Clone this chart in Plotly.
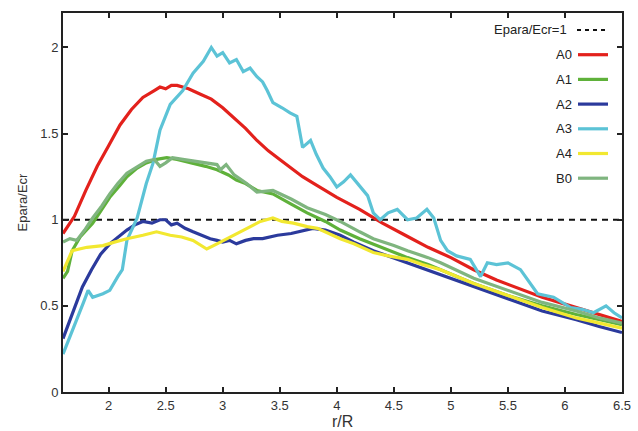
import plotly.graph_objects as go

# ---------------- data ----------------
a0_x = [1.6, 1.7, 1.8, 1.9, 2.0, 2.1, 2.2, 2.3, 2.4, 2.45, 2.5, 2.55, 2.6, 2.7, 2.8, 2.9, 3.0, 3.1, 3.2, 3.3, 3.4, 3.5, 3.6, 3.7, 3.8, 3.9, 4.0, 4.2, 4.4, 4.6, 4.8, 5.0, 5.2, 5.4, 5.6, 5.8, 6.0, 6.2, 6.4, 6.5]
a0_y = [0.92, 1.02, 1.17, 1.31, 1.43, 1.55, 1.64, 1.71, 1.75, 1.77, 1.76, 1.78, 1.78, 1.76, 1.73, 1.70, 1.65, 1.59, 1.53, 1.46, 1.40, 1.35, 1.30, 1.25, 1.21, 1.17, 1.13, 1.06, 0.98, 0.91, 0.84, 0.78, 0.71, 0.65, 0.60, 0.55, 0.51, 0.47, 0.43, 0.41]

a1_x = [1.6, 1.64, 1.68, 1.75, 1.86, 1.95, 2.01, 2.1, 2.16, 2.25, 2.33, 2.42, 2.51, 2.6, 2.74, 2.85, 2.95, 3.05, 3.12, 3.2, 3.3, 3.44, 3.6, 3.74, 3.9, 4.03, 4.2, 4.32, 4.5, 4.62, 4.8, 4.91, 5.2, 5.5, 5.8, 6.1, 6.3, 6.5]
a1_y = [0.66, 0.70, 0.82, 0.90, 0.98, 1.07, 1.13, 1.20, 1.25, 1.30, 1.33, 1.35, 1.36, 1.35, 1.33, 1.31, 1.29, 1.26, 1.23, 1.21, 1.17, 1.15, 1.09, 1.04, 0.99, 0.94, 0.89, 0.86, 0.81, 0.78, 0.74, 0.71, 0.63, 0.56, 0.50, 0.45, 0.42, 0.39]

a2_x = [1.6, 1.66, 1.72, 1.77, 1.85, 1.93, 2.01, 2.08, 2.16, 2.23, 2.3, 2.38, 2.45, 2.5, 2.55, 2.6, 2.67, 2.74, 2.82, 2.89, 2.95, 3.0, 3.06, 3.12, 3.2, 3.27, 3.35, 3.48, 3.6, 3.74, 3.79, 3.9, 4.03, 4.15, 4.32, 4.45, 4.62, 4.75, 4.91, 5.2, 5.5, 5.8, 6.1, 6.3, 6.5]
a2_y = [0.31, 0.42, 0.52, 0.61, 0.71, 0.80, 0.86, 0.90, 0.94, 0.97, 0.99, 0.98, 1.00, 1.00, 0.97, 0.98, 0.95, 0.93, 0.91, 0.89, 0.88, 0.87, 0.88, 0.86, 0.88, 0.89, 0.89, 0.91, 0.92, 0.94, 0.95, 0.94, 0.91, 0.87, 0.82, 0.79, 0.75, 0.72, 0.68, 0.61, 0.54, 0.47, 0.42, 0.38, 0.345]

a3_x = [1.6, 1.65, 1.72, 1.78, 1.82, 1.86, 1.95, 2.01, 2.08, 2.12, 2.16, 2.25, 2.33, 2.39, 2.45, 2.54, 2.65, 2.74, 2.83, 2.9, 2.95, 3.0, 3.06, 3.12, 3.18, 3.24, 3.3, 3.35, 3.39, 3.44, 3.52, 3.59, 3.65, 3.7, 3.77, 3.82, 3.88, 3.94, 4.0, 4.06, 4.12, 4.21, 4.27, 4.32, 4.38, 4.45, 4.53, 4.62, 4.7, 4.79, 4.85, 4.91, 4.97, 5.05, 5.17, 5.26, 5.32, 5.4, 5.5, 5.61, 5.7, 5.76, 5.9, 6.05, 6.15, 6.25, 6.36, 6.43, 6.5]
a3_y = [0.22, 0.30, 0.42, 0.52, 0.59, 0.55, 0.57, 0.59, 0.67, 0.71, 0.88, 1.01, 1.21, 1.33, 1.52, 1.67, 1.75, 1.85, 1.92, 2.00, 1.95, 1.97, 1.91, 1.93, 1.86, 1.88, 1.83, 1.80, 1.75, 1.68, 1.65, 1.62, 1.60, 1.42, 1.46, 1.38, 1.30, 1.25, 1.19, 1.22, 1.26, 1.19, 1.14, 1.04, 1.00, 1.04, 1.06, 1.00, 1.01, 1.06, 1.01, 0.88, 0.82, 0.79, 0.77, 0.67, 0.75, 0.74, 0.75, 0.71, 0.63, 0.57, 0.55, 0.49, 0.48, 0.46, 0.50, 0.46, 0.43]

a4_x = [1.6, 1.64, 1.68, 1.81, 1.95, 2.05, 2.16, 2.3, 2.42, 2.54, 2.64, 2.74, 2.86, 2.92, 3.04, 3.18, 3.33, 3.44, 3.52, 3.62, 3.74, 3.83, 4.03, 4.15, 4.32, 4.45, 4.62, 4.75, 4.91, 5.2, 5.5, 5.8, 6.1, 6.3, 6.5]
a4_y = [0.70, 0.76, 0.82, 0.84, 0.85, 0.87, 0.89, 0.91, 0.93, 0.91, 0.90, 0.88, 0.83, 0.85, 0.89, 0.94, 0.99, 1.01, 0.99, 0.98, 0.96, 0.95, 0.89, 0.86, 0.81, 0.79, 0.77, 0.74, 0.71, 0.63, 0.56, 0.49, 0.43, 0.40, 0.37]

b0_x = [1.6, 1.66, 1.72, 1.79, 1.86, 1.94, 2.01, 2.08, 2.16, 2.25, 2.33, 2.4, 2.45, 2.5, 2.56, 2.65, 2.74, 2.85, 2.95, 2.98, 3.03, 3.1, 3.21, 3.3, 3.44, 3.6, 3.74, 3.9, 4.03, 4.2, 4.32, 4.5, 4.62, 4.8, 4.91, 5.2, 5.5, 5.8, 6.1, 6.3, 6.5]
b0_y = [0.87, 0.89, 0.88, 0.94, 1.01, 1.08, 1.15, 1.21, 1.27, 1.31, 1.34, 1.35, 1.31, 1.33, 1.36, 1.35, 1.34, 1.33, 1.32, 1.29, 1.32, 1.26, 1.21, 1.16, 1.17, 1.12, 1.07, 1.03, 0.99, 0.93, 0.89, 0.85, 0.82, 0.78, 0.75, 0.66, 0.59, 0.52, 0.47, 0.43, 0.40]

ref_x = [1.6, 6.5]
ref_y = [1.0, 1.0]

series_names = ["A0", "A1", "A2", "A3", "A4", "B0"]
series_x = [a0_x, a1_x, a2_x, a3_x, a4_x, b0_x]
series_y = [a0_y, a1_y, a2_y, a3_y, a4_y, b0_y]
series_colors = ["#e3211c", "#5fb13a", "#2b3a9c", "#5cc3d6", "#f2e830", "#7fb57f"]

x_ticks = [2, 2.5, 3, 3.5, 4, 4.5, 5, 5.5, 6, 6.5]
y_ticks = [0, 0.5, 1, 1.5, 2]

# ---------------- figure ----------------
fig = go.Figure()
fig.add_trace(go.Scatter(x=ref_x, y=ref_y, mode="lines", name="Epara/Ecr=1",
                         line=dict(color="#111111", width=2, dash="6px,5px")))
for nm, xs, ys, c in zip(series_names, series_x, series_y, series_colors):
    fig.add_trace(go.Scatter(x=xs, y=ys, mode="lines", name=nm,
                             line=dict(color=c, width=3.2)))

# custom legend (text right, line sample at right)
legend_labels = ["Epara/Ecr=1"] + series_names
legend_colors = ["#111111"] + series_colors
top_px = 30
step_px = 24.7
plot_top, plot_h = 13, 379
plot_left, plot_w = 63, 559
for i, (lab, c) in enumerate(zip(legend_labels, legend_colors)):
    ypx = top_px + i * step_px
    yp = 1 - (ypx - plot_top) / plot_h
    if i == 0:
        tx, l0, l1 = 569, 577, 606
    else:
        tx, l0, l1 = 574, 578, 608
    fig.add_annotation(x=(tx - plot_left) / plot_w, y=yp, xref="paper", yref="paper",
                       text=lab, showarrow=False, xanchor="right", yanchor="middle",
                       font=dict(family="Liberation Sans, Arial", size=13, color="#222222"))
    fig.add_shape(type="line", xref="paper", yref="paper",
                  x0=(l0 - plot_left) / plot_w, x1=(l1 - plot_left) / plot_w, y0=yp, y1=yp,
                  line=dict(color=c, width=2 if i == 0 else 3.2, dash="4px,4px" if i == 0 else "solid"))

# x-axis title as annotation to sit just below tick labels
fig.add_annotation(x=0.5, y=0, xref="paper", yref="paper", text="r/R", showarrow=False,
                   xanchor="center", yanchor="top", yshift=-20, borderpad=0,
                   font=dict(family="Liberation Sans, Arial", size=16, color="#333333"))

axis_common = dict(showline=True, linecolor="#222222", linewidth=2, mirror="ticks",
                   ticks="inside", ticklen=5, tickwidth=2, tickcolor="#222222",
                   showgrid=False, zeroline=False, automargin=False,
                   tickfont=dict(family="Liberation Sans, Arial", size=13, color="#333333"))

fig.update_layout(
    width=638, height=431,
    margin=dict(l=63, r=16, t=13, b=39),
    paper_bgcolor="white", plot_bgcolor="white",
    showlegend=False,
    xaxis=dict(range=[1.6, 6.5], tickvals=x_ticks, ticktext=[f"{v:g}" for v in x_ticks],
               ticklabelstandoff=0, **axis_common),
    yaxis=dict(range=[0, 2.2], tickvals=y_ticks, ticktext=[f"{v:g}" for v in y_ticks],
               title=dict(text="Epara/Ecr", standoff=10, font=dict(family="Liberation Sans, Arial", size=13, color="#333333")),
               **axis_common),
)

fig.write_html("out.html")
